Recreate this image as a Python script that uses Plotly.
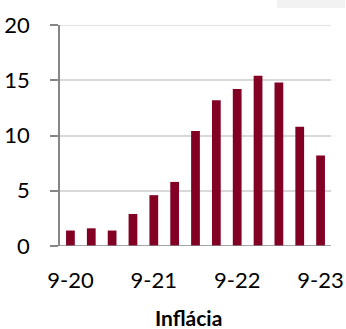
import plotly.graph_objects as go

quarters = ["9-20", "12-20", "3-21", "6-21", "9-21", "12-21", "3-22",
            "6-22", "9-22", "12-22", "3-23", "6-23", "9-23"]
inflation = [1.4, 1.6, 1.4, 2.9, 4.6, 5.8, 10.4, 13.2, 14.2, 15.4, 14.8, 10.8, 8.2]
tick_labels = ["9-20", "9-21", "9-22", "9-23"]
title_text = "Inflácia"

xs = list(range(len(quarters)))
tick_pos = [quarters.index(t) for t in tick_labels]

fig = go.Figure(go.Bar(x=xs, y=inflation, marker_color="#820024",
                       marker_line_width=0, width=0.42,
                       hovertext=quarters))

FONT = "Lato, Liberation Sans, sans-serif"
fig.update_layout(
    width=346, height=329,
    margin=dict(l=60, r=15, t=25, b=83, autoexpand=False),
    paper_bgcolor="white", plot_bgcolor="white",
    showlegend=False,
    font=dict(family=FONT, size=22, color="#000000"),
    xaxis=dict(range=[-0.5, len(quarters) - 0.5], tickvals=tick_pos,
               ticktext=tick_labels, showgrid=False, zeroline=False,
               showline=False, ticks="", ticklabelstandoff=19, automargin=False,
               tickfont=dict(size=22)),
    yaxis=dict(range=[0, 20], tickvals=[0, 5, 10, 15, 20], showgrid=True,
               gridcolor="#d9d9d9", gridwidth=1.5, zeroline=False,
               showline=True, linecolor="#868686", linewidth=1.5, automargin=False,
               ticks="outside", ticklen=8, tickcolor="#868686", tickwidth=1.5,
               ticklabelstandoff=16, tickfont=dict(size=22)),
    shapes=[
        dict(type="line", xref="paper", yref="y", x0=-8/271, x1=1, y0=0, y1=0,
             line=dict(color="#868686", width=1.5)),
        dict(type="line", xref="paper", yref="y", x0=-8/271, x1=1, y0=20, y1=20,
             line=dict(color="#d9d9d9", width=1.5), layer="below"),
        dict(type="rect", xref="paper", yref="paper", x0=(277-60)/271, x1=(345-60)/271,
             y0=(246-8)/221, y1=246/221,
             fillcolor="#f2f2f2", line=dict(width=0), layer="below"),
    ],
    annotations=[dict(text="<b>" + title_text + "</b>", xref="paper", yref="paper",
                      x=(188-60)/271, y=-(317-246)/221, xanchor="center", yanchor="middle",
                      showarrow=False, font=dict(family=FONT, size=21))],
)
fig.write_html("out.html", config={"displayModeBar": False},
               post_script="document.body.style.margin='0';document.body.style.overflow='hidden';")
